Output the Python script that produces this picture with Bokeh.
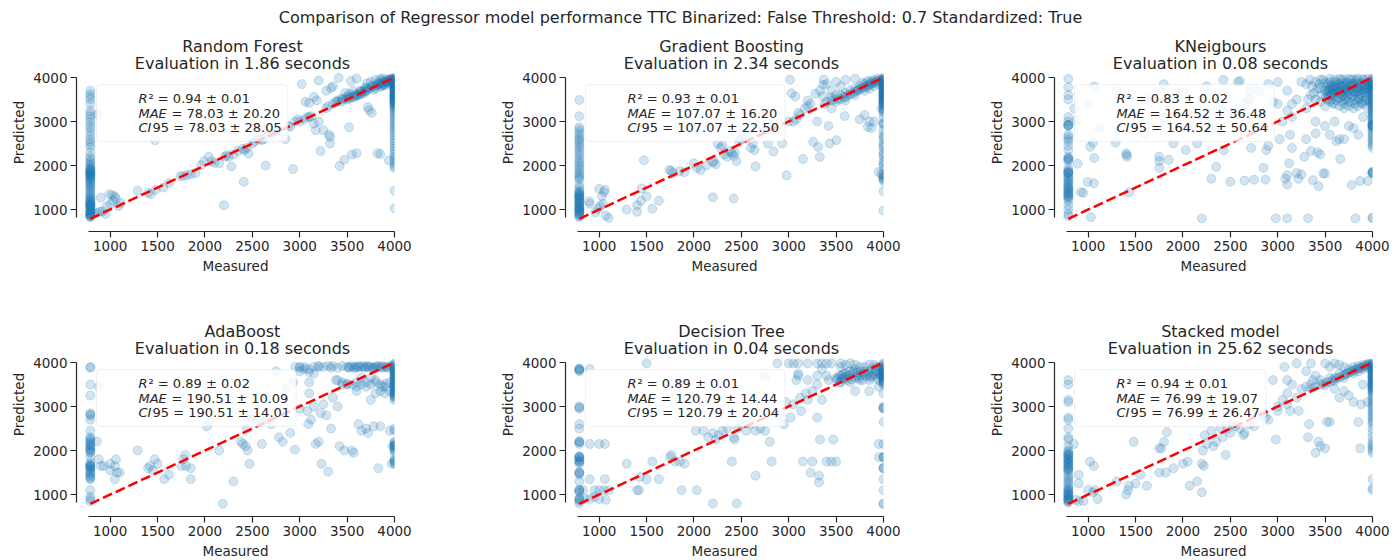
from bokeh.plotting import figure
from bokeh.models import Range1d, FixedTicker, BoxAnnotation, Label
from bokeh.layouts import column, row
from bokeh.embed import file_html
from bokeh.resources import INLINE
from bokeh.core.properties import value

SUPTITLE = "Comparison of Regressor model performance TTC Binarized: False Threshold: 0.7 Standardized: True"
MODELS = ["Random Forest", "Gradient Boosting", "KNeigbours", "AdaBoost", "Decision Tree", "Stacked model"]
EVAL_SECONDS = ["1.86", "2.34", "0.08", "0.18", "0.04", "25.62"]
R2_MEAN = ["0.94", "0.93", "0.83", "0.89", "0.89", "0.94"]
R2_STD = ["0.01", "0.01", "0.02", "0.02", "0.01", "0.01"]
MAE_MEAN = ["78.03", "107.07", "164.52", "190.51", "120.79", "76.99"]
MAE_STD = ["20.20", "16.20", "36.48", "10.09", "14.44", "19.07"]
CI95_STD = ["28.05", "22.50", "50.64", "14.01", "20.04", "26.47"]

X_TICKS = [1000, 1500, 2000, 2500, 3000, 3500, 4000]
Y_TICKS = [1000, 2000, 3000, 4000]
XLIM = (771, 4000)
YLIM = (820, 4000)
MEAS_MIN = 790      # measured value of the lower clip column
MEAS_MAX = 4000     # measured value of the upper clip column
IDENTITY = [790, 4000]

# ---------------- Random Forest ----------------
RF_LEFT = [3700, 3620, 3560, 3500, 3400, 3250, 3180, 3120, 3050, 2980, 2900, 2840, 2760, 2680, 2600, 2540,
           2480, 2420, 2300, 2200, 2150, 2100, 2060, 2020, 1980, 1950, 1920, 1900, 1880, 1850, 1830, 1800,
           1780, 1760, 1740, 1720, 1700, 1680, 1650, 1620, 1600, 1560, 1520, 1500, 1460, 1420, 1380, 1350,
           1300, 1280, 1250, 1230, 1200, 1180, 1150, 1130, 1100, 1080, 1050, 1030, 1000, 980, 960, 940, 920,
           900, 880, 860, 840, 830, 1860, 1820, 1780, 1900, 1160, 1120, 1090, 1060, 910, 870]
RF_RIGHT = [3990, 3970, 3950, 3930, 3910, 3890, 3870, 3850, 3830, 3810, 3790, 3770, 3750, 3730, 3710, 3690,
            3670, 3650, 3630, 3610, 3590, 3570, 3550, 3530, 3510, 3490, 3470, 3450, 3430, 3400, 3370, 3340,
            3310, 3280, 3240, 3200, 3150, 3100, 3060, 3000, 2950, 2900, 2850, 2800, 2740, 2680, 2620, 2560,
            2500, 2440, 2380, 2320, 2260, 2200, 2150, 2100, 2040, 1980, 1940, 1430, 1030, 3960, 3900, 3860,
            3820, 3780, 3740, 3700, 3660, 3620, 3580, 3540, 3500, 3460, 3420, 3380]
RF_POINTS = [(830, 900), (860, 930), (890, 950), (920, 960), (950, 900), (900, 1270), (990, 1350), (1020, 1330),
             (1050, 1300), (1060, 1250), (1030, 1200), (1000, 1120), (960, 1070), (1090, 1080), (1110, 1150),
             (1290, 1430), (1400, 1380), (1430, 1350), (1480, 1450), (1560, 1500), (1620, 1600), (1740, 1760),
             (1770, 1760), (1810, 1780), (1850, 1800), (1900, 1830), (1960, 2010), (1990, 2100), (2040, 2200),
             (2070, 2100), (2100, 2060), (2150, 2050), (2200, 1100), (2210, 2200), (2230, 2240), (2250, 2200),
             (2280, 1980), (2300, 2250), (2350, 2330), (2400, 2380), (2410, 1630), (2420, 2350), (2440, 2400),
             (2460, 2270), (2500, 2500), (2530, 2550), (2570, 2600), (2600, 2580), (2620, 2600), (2640, 2000),
             (2680, 2700), (2720, 2750), (2760, 2800), (2800, 2780), (2850, 2600), (2880, 2900), (2900, 2880),
             (2930, 1920), (2950, 3000), (2980, 3050), (3000, 3000), (3050, 3050), (3080, 3100), (3100, 3100),
             (3120, 3120), (3150, 2950), (3170, 2800), (3200, 3000), (3220, 2330), (3250, 2800), (3280, 3300),
             (3300, 3350), (3310, 2700), (3320, 2500), (3320, 2650), (3350, 3400), (3380, 3450), (3400, 3450),
             (3420, 1990), (3440, 3450), (3470, 2130), (3500, 3500), (3520, 2870), (3530, 3520), (3550, 2250),
             (3570, 3550), (3600, 2280), (3600, 3580), (3620, 3600), (3650, 3620), (3680, 3650), (3700, 3680),
             (3720, 3330), (3730, 3260), (3760, 3200), (3780, 3720), (3800, 3750), (3820, 2280), (3850, 2260),
             (3860, 3800), (3880, 3830), (3900, 3860), (3920, 3900), (3940, 3920), (3960, 3950), (3980, 3970),
             (3940, 2120), (2620, 2800), (2700, 2730), (2750, 2850), (2500, 2620), (870, 3160), (1475, 2575),
             (3020, 3850), (3200, 3930), (3280, 3700), (3330, 3760), (3350, 3800), (3410, 3990), (3480, 3650),
             (3540, 3920), (3600, 3980), (3640, 3700), (3100, 3420), (3180, 3480), (3150, 3560), (3060, 3450),
             (3710, 3870), (3750, 3900), (3690, 3760), (3800, 3950), (3850, 3970), (3880, 3980), (3560, 3700),
             (3520, 3620), (3400, 3480), (3450, 3500), (3480, 3520), (3520, 3550), (3550, 3560), (3580, 3590),
             (3610, 3610), (3640, 3640), (3660, 3680), (3690, 3700), (3710, 3730), (3740, 3760), (3760, 3780),
             (3790, 3800), (3810, 3830), (3830, 3850), (3850, 3870), (3870, 3880), (3890, 3900), (3910, 3920),
             (3930, 3930), (3950, 3940), (3970, 3960), (3850, 3800), (3900, 3820), (3950, 3850), (3980, 3900),
             (3940, 3880), (3880, 3850), (3960, 3970), (3920, 3960), (3860, 3920), (3820, 3880), (3760, 3820),
             (3700, 3760), (3640, 3680), (3580, 3620), (3500, 3560), (3440, 3520)]

# ---------------- Gradient Boosting ----------------
GB_LEFT = [3490, 3120, 2870, 2820, 2760, 2700, 2640, 2600, 2560, 2500, 2450, 2400, 2340, 2280, 2220, 2160,
           2100, 2050, 2000, 1950, 1900, 1850, 1800, 1760, 1720, 1680, 1560, 1500, 1440, 1400, 1370, 1340,
           1300, 1270, 1240, 1210, 1180, 1150, 1120, 1090, 1060, 1030, 1000, 970, 940, 910, 880, 850, 830,
           1380, 1320, 1260, 1200, 1140, 1080, 1020, 960, 900, 1300, 1000]
GB_RIGHT = [3990, 3970, 3950, 3930, 3910, 3890, 3870, 3850, 3830, 3810, 3790, 3770, 3750, 3730, 3710, 3690,
            3670, 3650, 3630, 3610, 3590, 3570, 3550, 3530, 3510, 3490, 3470, 3450, 3430, 3410, 3380, 3350,
            3320, 3290, 3260, 3230, 3200, 3100, 2980, 2950, 2920, 2800, 2700, 2650, 2600, 2500, 2450, 2400,
            2300, 2250, 2200, 2100, 2050, 2000, 1900, 1800, 1760, 1730, 1700, 1680, 1650, 1420, 980, 3950,
            3900, 3850, 3800, 3750, 3700, 3650, 3600, 3550, 3500, 3450, 3400]
GB_POINTS = [(895, 1190), (900, 1130), (1000, 1470), (1050, 1400), (1060, 1450), (1030, 1300), (1040, 1130),
             (1010, 1080), (1070, 860), (1100, 810), (990, 1020), (960, 940), (1290, 1000), (1400, 950),
             (1400, 1100), (1440, 1200), (1450, 1480), (1472, 2119), (1500, 1300), (1560, 1020), (1630, 1200),
             (1740, 1900), (1760, 1880), (1780, 1830), (1850, 1870), (1900, 1850), (2000, 2050), (2030, 1950),
             (2070, 1900), (2130, 2000), (2200, 1280), (2200, 2070), (2210, 2100), (2230, 2030), (2250, 2500),
             (2280, 2400), (2300, 2450), (2320, 2250), (2350, 2200), (2380, 2320), (2400, 2280), (2420, 1250),
             (2420, 2220), (2430, 2300), (2450, 2100), (2480, 2550), (2500, 2600), (2550, 2650), (2600, 2400),
             (2620, 2500), (2640, 2350), (2650, 1980), (2700, 2750), (2750, 2800), (2780, 2500), (2800, 2900),
             (2840, 2320), (2860, 2800), (2900, 2950), (2930, 2500), (2978, 1777), (3000, 3000), (3050, 3000),
             (3080, 3050), (3100, 3200), (3120, 3150), (3150, 2150), (3170, 3300), (3200, 3350), (3230, 3400),
             (3258, 2538), (3310, 2424), (3328, 2195), (3433, 2500), (3503, 2576), (3300, 3000), (3380, 3400),
             (3420, 2900), (3450, 3300), (3013, 3947), (3030, 3642), (3070, 3570), (3200, 3480), (3280, 3630),
             (3363, 3832), (3370, 3950), (3400, 3850), (3330, 3700), (3360, 3580), (3450, 3700), (3500, 3900),
             (3550, 3800), (3600, 3950), (3700, 3970), (3590, 3124), (3750, 3050), (3800, 3150), (3850, 3000),
             (3835, 2880), (3870, 2850), (3900, 3000), (3980, 3300), (3951, 1853), (3980, 1800), (3400, 3450),
             (3450, 3480), (3480, 3500), (3500, 3450), (3520, 3520), (3550, 3500), (3580, 3560), (3600, 3550),
             (3620, 3600), (3650, 3620), (3680, 3640), (3700, 3680), (3720, 3700), (3740, 3720), (3760, 3750),
             (3780, 3760), (3800, 3780), (3820, 3800), (3840, 3820), (3860, 3840), (3880, 3860), (3900, 3880),
             (3920, 3900), (3940, 3920), (3960, 3940), (3980, 3960), (3600, 3480), (3700, 3600), (3800, 3700),
             (3850, 3750), (3900, 3800), (3950, 3850), (3750, 3800), (3800, 3850), (3850, 3900), (3900, 3950),
             (3650, 3700), (3550, 3600), (3450, 3550), (3700, 3750), (3600, 3650), (3780, 3880), (3830, 3920),
             (3880, 3920), (3940, 3970), (3500, 3600)]

# ---------------- KNeigbours ----------------
KN_LEFT = [3970, 3780, 3600, 3500, 3100, 3000, 2930, 2920, 2910, 2900, 2700, 2650, 2600, 2550, 2450, 2350,
           2200, 2160, 2150, 2140, 2100, 1950, 1900, 1860, 1850, 1840, 1830, 1800, 1760, 1720, 1700, 1650,
           1620, 1600, 1560, 1530, 1500, 1470, 1450, 1420, 1400, 1370, 1350, 1320, 1300, 1280, 1250, 1200,
           1100, 1000, 900, 850]
KN_RIGHT = [3980, 3960, 3930, 3900, 3870, 3840, 3810, 3780, 3750, 3720, 3690, 3660, 3630, 3600, 3570, 3540,
            3510, 3480, 3450, 3420, 3390, 3360, 3330, 3300, 3270, 3240, 3210, 3180, 3150, 3120, 3090, 3060,
            3030, 3000, 2960, 2930, 2920, 2910, 2900, 2890, 2880, 2850, 2800, 2750, 2700, 2650, 2600, 2550,
            2500, 2450, 2400, 1860, 1850, 1840, 1830, 1820, 800, 820]
KN_POINTS = [(853, 3300), (880, 3030), (888, 2043), (923, 1396), (950, 1380), (993, 1624), (1060, 1600),
             (1063, 2173), (1050, 2520), (1115, 2843), (1063, 3794), (1000, 3400), (1021, 2424), (1028, 825),
             (1290, 2520), (1400, 2280), (1405, 2240), (1410, 2200), (1430, 1390), (1600, 2720), (1797, 3848),
             (1750, 2200), (1750, 2100), (1750, 1950), (1850, 2130), (1900, 2500), (2030, 2350), (2150, 2500),
             (2200, 800), (2250, 3800), (2300, 2850), (2350, 1970), (2300, 1700), (2430, 2350), (2500, 1630),
             (2427, 3947), (2580, 3900), (2600, 3920), (2650, 3400), (2650, 1660), (2700, 3500), (2720, 2400),
             (2750, 1680), (2800, 3700), (2850, 1950), (2870, 1680), (2880, 2350), (2900, 2450), (2950, 3450),
             (2980, 800), (3000, 3900), (3020, 2600), (3080, 1700), (3100, 800), (3100, 1570), (3100, 1780),
             (3120, 2050), (3130, 2700), (3150, 2400), (3150, 3100), (3200, 1830), (3220, 1700), (3250, 1800),
             (3280, 2200), (3300, 2600), (3320, 800), (3350, 2330), (3370, 1670), (3400, 2730), (3400, 3000),
             (3420, 2300), (3430, 1530), (3450, 2250), (3480, 1820), (3500, 1820), (3500, 2900), (3550, 2700),
             (3600, 3000), (3620, 2550), (3650, 2600), (3660, 2150), (3700, 2600), (3700, 3300), (3750, 2900),
             (3780, 1560), (3800, 2850), (3820, 800), (3850, 2700), (3870, 1650), (3900, 3100), (3950, 1650),
             (2700, 3700), (2900, 3850), (3000, 3400), (3100, 3700), (3150, 3400), (3200, 3500), (3250, 3900),
             (3300, 3300), (3350, 3600), (3450, 3750), (3100, 3250), (3050, 3000), (1300, 3700), (1600, 3500),
             (2000, 3650), (2200, 3500), (2400, 3300), (2550, 3200), (1800, 3100), (2100, 2900),
             (3500, 3700), (3520, 3650), (3540, 3750), (3560, 3600), (3580, 3800), (3600, 3700), (3620, 3650),
             (3640, 3750), (3660, 3550), (3680, 3700), (3700, 3800), (3720, 3650), (3740, 3600), (3760, 3750),
             (3780, 3700), (3800, 3850), (3820, 3650), (3840, 3750), (3860, 3550), (3880, 3700), (3900, 3800),
             (3920, 3650), (3940, 3750), (3960, 3600), (3980, 3700), (3510, 3550), (3530, 3850), (3550, 3900),
             (3570, 3500), (3590, 3650), (3610, 3900), (3630, 3550), (3650, 3850), (3670, 3950), (3690, 3600),
             (3710, 3500), (3730, 3900), (3750, 3450), (3770, 3950), (3790, 3550), (3810, 3400), (3830, 3950),
             (3850, 3500), (3870, 3850), (3890, 3450), (3910, 3950), (3930, 3500), (3950, 3900), (3970, 3450),
             (3990, 3850), (3400, 3900), (3420, 3750), (3440, 3850), (3460, 3600), (3480, 3950), (3380, 3650),
             (3360, 3800), (3340, 3950), (3320, 3500), (3300, 3850), (3600, 3400), (3650, 3350), (3700, 3400),
             (3750, 3350), (3800, 3300), (3850, 3350), (3900, 3400), (3950, 3300), (3550, 3450), (3500, 3350),
             (3450, 3450), (3400, 3500), (3560, 3720), (3620, 3780), (3680, 3820), (3740, 3680), (3800, 3580),
             (3860, 3620), (3920, 3820), (3980, 3900), (3540, 3580), (3600, 3820), (3660, 3660), (3720, 3740),
             (3780, 3860), (3840, 3680), (3900, 3560), (3960, 3780),
             (3520, 3780), (3540, 3680), (3560, 3820), (3580, 3720), (3600, 3600), (3620, 3860), (3640, 3680),
             (3660, 3780), (3680, 3580), (3700, 3720), (3720, 3860), (3740, 3780), (3760, 3640), (3780, 3800),
             (3800, 3680), (3820, 3760), (3840, 3880), (3860, 3720), (3880, 3800), (3900, 3660), (3920, 3740),
             (3940, 3860), (3960, 3700), (3980, 3800), (3530, 3700), (3570, 3640), (3610, 3760), (3650, 3700),
             (3690, 3880), (3730, 3720), (3770, 3820), (3810, 3860), (3850, 3780), (3890, 3880), (3930, 3700),
             (3970, 3860), (3550, 3970), (3650, 3970), (3750, 3970), (3850, 3970), (3950, 3970), (3600, 3950),
             (3700, 3960), (3800, 3960), (3900, 3960), (3450, 3950), (3500, 3880), (3520, 3500), (3620, 3480),
             (3720, 3520), (3820, 3500), (3920, 3480), (3580, 3420), (3680, 3460), (3780, 3440), (3880, 3420),
             (3980, 3500)]

# ---------------- AdaBoost ----------------
AB_LEFT = [3900, 3880, 3500, 3250, 2850, 2820, 2790, 2700, 2450, 2300, 2270, 2240, 2200, 2170, 2140, 2110,
           2080, 2050, 2020, 2000, 1970, 1950, 1850, 1720, 1690, 1660, 1650, 1640, 1620, 1600, 1570, 1540,
           1500, 1470, 1440, 1400, 1370, 1350, 1100, 950, 900, 850]
AB_RIGHT = [3980, 3960, 3930, 3900, 3880, 3860, 3840, 3820, 3800, 3780, 3760, 3740, 3720, 3700, 3680, 3660,
            3640, 3620, 3600, 3580, 3560, 3540, 3520, 3500, 3480, 3460, 3440, 3420, 3400, 3380, 3360, 3340,
            3320, 3300, 3280, 3260, 3240, 3220, 3200, 3150, 2500, 2450, 2200, 2180, 2150, 2120, 2100, 2080,
            2050, 2020, 2000, 1950, 1800, 1770, 1750, 1720, 1700]
AB_POINTS = [(880, 3450), (880, 1800), (900, 1650), (930, 1650), (859, 2206), (1000, 1700), (1050, 1650),
             (1060, 1800), (1070, 1500), (1050, 1350), (1100, 1500), (1000, 1550), (1290, 2000), (1400, 1600),
             (1420, 1650), (1450, 1550), (1470, 1800), (1500, 1700), (1570, 1350), (1620, 1450), (1750, 1650),
             (1770, 1800), (1790, 1900), (1800, 1650), (1850, 1600), (1850, 1350), (2020, 2549), (2050, 2650),
             (2150, 2000), (2189, 794), (2300, 1300), (2380, 2200), (2400, 2150), (2430, 2100), (2440, 2500),
             (2450, 2000), (2470, 1700), (2500, 2800), (2550, 2700), (2600, 2150), (2650, 2700), (2700, 2600),
             (2750, 3800), (2780, 2300), (2820, 2200), (2850, 3400), (2900, 2400), (2930, 3550), (2950, 2020),
             (3000, 3900), (3050, 3850), (3080, 2900), (3090, 2600), (3100, 3300), (3100, 3550), (3120, 2700),
             (3150, 3000), (3170, 2150), (3200, 2200), (3200, 3900), (3220, 2850), (3230, 1700), (3250, 3050),
             (3280, 2800), (3300, 1520), (3330, 2500), (3350, 3200), (3380, 3600), (3400, 3000), (3420, 2100),
             (3450, 3500), (3470, 2000), (3500, 3500), (3550, 2000), (3570, 1950), (3600, 3350), (3620, 2600),
             (3650, 2450), (3700, 2500), (3720, 2400), (3750, 3150), (3780, 2550), (3800, 3300), (3830, 1600),
             (3850, 2550), (3870, 3450), (3900, 3300), (3950, 2450), (3980, 2100), (3970, 1700),
             (2950, 3900), (3000, 3880), (3050, 3900), (3100, 3850), (3150, 3900), (3200, 3920), (3250, 3900),
             (3300, 3920), (3330, 3880), (3350, 3920), (3400, 3880), (3450, 3920), (3500, 3900), (3520, 3880),
             (3550, 3920), (3580, 3900), (3600, 3880), (3620, 3920), (3650, 3900), (3680, 3880), (3700, 3900),
             (3720, 3920), (3750, 3900), (3780, 3880), (3800, 3900), (3820, 3920), (3850, 3900), (3870, 3880),
             (3900, 3900), (3930, 3880), (3960, 3920), (3980, 3900), (3100, 3780), (3000, 3800), (3150, 3750),
             (3520, 3900), (3620, 3900), (3720, 3900), (3820, 3900), (3920, 3900), (3570, 3880), (3670, 3920),
             (3770, 3880), (3870, 3920), (3400, 3600), (3450, 3550), (3500, 3520), (3550, 3500), (3600, 3550),
             (3650, 3500), (3700, 3550), (3750, 3500), (3800, 3550), (3850, 3500), (3900, 3520), (3950, 3550),
             (3900, 3450), (3850, 3350), (3950, 3350), (3700, 3450), (3600, 3450), (3800, 3600), (3750, 3650),
             (3650, 3650), (2600, 2650), (2500, 2700), (2800, 2800), (3000, 2950)]

# ---------------- Decision Tree ----------------
DT_LEFT = [3860, 3850, 3840, 3830, 3800, 3000, 2980, 2950, 2600, 2500, 2210, 2200, 2190, 2150, 1870, 1860,
           1850, 1840, 1800, 1760, 1750, 1740, 1700, 1510, 1500, 1490, 1450, 1300, 1110, 1100, 1090, 1050,
           910, 900, 890, 850, 800]
DT_RIGHT = [3980, 3960, 3930, 3900, 3880, 3860, 3840, 3820, 3800, 3780, 3760, 3740, 3720, 3700, 3680, 3660,
            3640, 3620, 3600, 3580, 3560, 3540, 3520, 3500, 3300, 3000, 2970, 2960, 2950, 2650, 2150, 1860,
            1850, 1840, 1610, 1600, 1590, 1350, 1100, 800, 780]
DT_POINTS = [(900, 3850), (900, 2150), (1000, 2150), (1060, 2150), (900, 1350), (1060, 1350), (950, 1100),
             (830, 1100), (850, 900), (900, 900), (950, 950), (1000, 1100), (1050, 1100), (1100, 1100),
             (1000, 900), (1070, 880), (1290, 1700), (1400, 1100), (1420, 1100), (1430, 1400), (1500, 1350),
             (1500, 3980), (1560, 1750), (1630, 1350), (1750, 1850), (1760, 1900), (1800, 1750), (1850, 1750),
             (1870, 1100), (1900, 1700), (2030, 1100), (2020, 2450), (2100, 2450), (2150, 2300), (2200, 800),
             (2200, 2400), (2230, 2250), (2260, 2350), (2300, 2450), (2350, 2500), (2400, 1750), (2420, 2300),
             (2430, 2250), (2450, 800), (2460, 2500), (2500, 2600), (2550, 2450), (2600, 2600), (2650, 2450),
             (2650, 1430), (2700, 2500), (2750, 2450), (2750, 3680), (2800, 2200), (2820, 1750), (2880, 3980),
             (2900, 2800), (2950, 2600), (2970, 3100), (3000, 3980), (3020, 2750), (3050, 3050), (3080, 3600),
             (3100, 3750), (3120, 3200), (3130, 2900), (3150, 1750), (3200, 3150), (3230, 1500), (3250, 1750),
             (3250, 3350), (3300, 2750), (3320, 1280), (3320, 1430), (3330, 2250), (3350, 3150), (3400, 1750),
             (3450, 1750), (3470, 2250), (3500, 1750), (3050, 3980), (3100, 3980), (3200, 3980), (3300, 3980),
             (3350, 3980), (3400, 3980), (3450, 3980), (3550, 3980), (3650, 3980), (3100, 3700), (3200, 3600),
             (3300, 3700), (3400, 3700), (3350, 3850), (3420, 3600), (3300, 3500), (3180, 3300),
             (3500, 3600), (3520, 3650), (3540, 3700), (3560, 3620), (3580, 3750), (3600, 3650), (3620, 3700),
             (3640, 3800), (3660, 3620), (3680, 3750), (3700, 3850), (3720, 3700), (3740, 3650), (3760, 3800),
             (3780, 3750), (3800, 3900), (3820, 3700), (3840, 3800), (3860, 3650), (3880, 3850), (3900, 3750),
             (3920, 3900), (3940, 3800), (3960, 3700), (3980, 3850), (3550, 3900), (3600, 3950), (3700, 3950),
             (3750, 3900), (3850, 3950), (3900, 3950), (3950, 3900), (3700, 3350), (3850, 3350), (3950, 3450),
             (3650, 3550), (3750, 3600), (3850, 3600), (3950, 3600), (3550, 3550), (3950, 2150), (3950, 1850),
             (3560, 3700), (3600, 3750), (3640, 3700), (3680, 3800), (3720, 3780), (3760, 3700), (3800, 3800),
             (3840, 3750), (3880, 3700), (3920, 3800), (3960, 3750), (3620, 3600), (3700, 3650), (3780, 3600),
             (3860, 3700), (3940, 3650), (3980, 3700), (3500, 3650), (3540, 3550), (3580, 3650)]

# ---------------- Stacked model ----------------
ST_LEFT = [3600, 3500, 3150, 3100, 2750, 2700, 2500, 2300, 2250, 2100, 2000, 1970, 1940, 1910, 1880, 1850,
           1820, 1790, 1760, 1730, 1700, 1670, 1640, 1610, 1580, 1550, 1520, 1450, 1400, 1350, 1300, 1250,
           1200, 1150, 1120, 1100, 1070, 1050, 1020, 1000, 970, 950, 920, 900, 880, 860, 840, 820, 1900,
           1800, 1700, 1600, 1000, 900]
ST_RIGHT = [3980, 3960, 3930, 3900, 3870, 3840, 3810, 3780, 3750, 3720, 3690, 3660, 3630, 3600, 3570, 3540,
            3510, 3480, 3450, 3420, 3390, 3360, 3330, 3300, 3250, 3200, 3150, 3100, 3050, 3000, 2950, 2900,
            2850, 2800, 2750, 2700, 2650, 2600, 2500, 2400, 2300, 2200, 2150, 2100, 2050, 2000, 1950, 1350,
            1150, 1100, 3950, 3900, 3850, 3800, 3750, 3700, 3650, 3600, 3550, 3500, 3450, 3400]
ST_POINTS = [(900, 1450), (900, 1250), (850, 2150), (870, 880), (900, 850), (950, 850), (1000, 1100),
             (1020, 1750), (1050, 1050), (1060, 1650), (1070, 1100), (1100, 900), (1300, 1300), (1400, 1000),
             (1420, 1100), (1430, 1200), (1480, 2200), (1500, 1250), (1550, 1450), (1620, 1200), (1750, 1500),
             (1750, 2050), (1770, 2050), (1800, 2200), (1820, 1500), (1830, 2420), (1900, 1600), (2000, 1700),
             (2050, 1750), (2070, 1200), (2150, 1300), (2200, 1050), (2200, 1700), (2210, 2000), (2220, 1650),
             (2230, 2350), (2250, 2150), (2300, 2450), (2320, 2100), (2350, 2200), (2400, 2500), (2420, 2300),
             (2450, 1900), (2470, 2500), (2500, 2400), (2520, 2600), (2550, 2550), (2600, 2500), (2640, 2350),
             (2650, 2400), (2700, 2600), (2750, 2550), (2780, 2800), (2850, 2850), (2870, 2750), (2900, 2700),
             (2950, 3600), (2980, 2250), (3000, 2900), (3000, 3000), (3050, 3150), (3070, 3900), (3100, 3050),
             (3100, 3300), (3130, 2900), (3150, 3500), (3200, 3200), (3220, 2900), (3250, 3400), (3300, 3800),
             (3320, 2300), (3330, 2600), (3350, 3500), (3370, 3600), (3400, 3700), (3400, 1950), (3430, 2200),
             (3450, 2100), (3500, 2050), (3520, 2650), (3550, 2650), (3600, 3400), (3650, 3200), (3700, 3350),
             (3750, 3250), (3800, 3100), (3850, 2650), (3870, 2050), (3880, 3050), (3900, 3500), (3950, 3100),
             (3100, 3600), (3200, 3980), (3350, 3980), (3500, 3980), (3550, 3900), (3600, 3980), (3650, 3950),
             (3700, 3900), (3300, 3450), (3350, 3400), (3400, 3450), (3450, 3500), (3480, 3520), (3500, 3480),
             (3520, 3550), (3550, 3560), (3580, 3600), (3600, 3580), (3620, 3640), (3650, 3660), (3680, 3700),
             (3700, 3720), (3720, 3740), (3740, 3760), (3760, 3780), (3780, 3800), (3800, 3820), (3820, 3840),
             (3840, 3860), (3860, 3870), (3880, 3890), (3900, 3900), (3920, 3920), (3940, 3940), (3960, 3950),
             (3980, 3970), (3600, 3650), (3700, 3650), (3800, 3750), (3850, 3800), (3900, 3850), (3950, 3880),
             (3750, 3850), (3850, 3920), (3950, 3970), (3650, 3750), (3550, 3650), (3450, 3600), (3800, 3900),
             (3900, 3950)]

LEFT_SETS = [RF_LEFT, GB_LEFT, KN_LEFT, AB_LEFT, DT_LEFT, ST_LEFT]
RIGHT_SETS = [RF_RIGHT, GB_RIGHT, KN_RIGHT, AB_RIGHT, DT_RIGHT, ST_RIGHT]
POINT_SETS = [RF_POINTS, GB_POINTS, KN_POINTS, AB_POINTS, DT_POINTS, ST_POINTS]

# ---------------- styling / geometry ----------------
FONT = "DejaVu Sans"
TXT = "#262626"
BLUE = "#1f77b4"
WIN_W = 1396
FRAME_W = 318
DATA_H = 140            # pixel height of the data area
GAP_X, GAP_Y = 12, 14   # spine offsets (left / bottom)
HEAD = [44, 70]         # frame space above the data area (titles live there), per row
KX = (XLIM[1] - XLIM[0]) / (FRAME_W - GAP_X)
KY = (YLIM[1] - YLIM[0]) / DATA_H
X_START = XLIM[0] - GAP_X * KX
Y_START = YLIM[0] - GAP_Y * KY
FRAME_LEFTS = [76, 565, 1054]
RIGHT_BORDERS = [95, 95, 24]
TOP_BORDER = 2
BOTTOM_BORDERS = [59, 44]
SUP_H = 31

EM = {"0": .636, "1": .636, "2": .636, "3": .636, "4": .636, "5": .636, "6": .636, "7": .636, "8": .636,
      "9": .636, ".": .318, " ": .318, "=": .838, "±": .838, "²": .4}


def text_w(s, fs=13):
    return sum(EM.get(c, .6) for c in s) * fs


def make_panel(i):
    r, c = divmod(i, 3)
    y_end = YLIM[1] + HEAD[r] * KY
    p = figure(frame_width=FRAME_W, frame_height=GAP_Y + DATA_H + HEAD[r],
               x_range=Range1d(X_START, XLIM[1]), y_range=Range1d(Y_START, y_end),
               min_border_left=FRAME_LEFTS[0], min_border_right=RIGHT_BORDERS[c],
               min_border_top=TOP_BORDER, min_border_bottom=BOTTOM_BORDERS[r],
               toolbar_location=None, output_backend="svg", title=None)
    p.outline_line_color = None
    p.xgrid.visible = False
    p.ygrid.visible = False

    lefts, rights, pts = LEFT_SETS[i], RIGHT_SETS[i], POINT_SETS[i]
    xs = [MEAS_MIN] * len(lefts) + [q[0] for q in pts] + [MEAS_MAX] * len(rights)
    ys = list(lefts) + [q[1] for q in pts] + list(rights)
    p.scatter(xs, ys, size=9, fill_color=BLUE, fill_alpha=0.2, line_color=BLUE, line_alpha=0.2, line_width=1)
    p.line(IDENTITY, IDENTITY, line_color="red", line_width=2.5, line_dash="10 4")

    for ax, ticks, bounds, lab in ((p.xaxis, X_TICKS, XLIM, "Measured"), (p.yaxis, Y_TICKS, YLIM, "Predicted")):
        ax.ticker = FixedTicker(ticks=ticks)
        ax.bounds = bounds
        ax.axis_label = lab
        ax.axis_label_text_font = FONT
        ax.axis_label_text_font_style = "normal"
        ax.axis_label_text_font_size = "13.5px"
        ax.axis_label_text_color = TXT
        ax.major_label_text_font = FONT
        ax.major_label_text_font_size = "13.5px"
        ax.major_label_text_color = TXT
        ax.axis_line_color = TXT
        ax.axis_line_width = 1.2
        ax.major_tick_line_color = TXT
        ax.major_tick_line_width = 1.2
        ax.major_tick_out = 6
        ax.major_tick_in = 0
        ax.minor_tick_line_color = None
        ax.major_label_standoff = 3
    p.xaxis.axis_label_standoff = 4
    p.yaxis.axis_label_standoff = 3

    # stats box
    lines = [("R", "² = %s ± %s" % (R2_MEAN[i], R2_STD[i]), 10),
             ("MAE", "= %s ± %s" % (MAE_MEAN[i], MAE_STD[i]), 33),
             ("CI", "95 = %s ± %s" % (MAE_MEAN[i], CI95_STD[i]), 14)]
    widest = max(off + text_w(rest) for _, rest, off in lines)
    box = BoxAnnotation(left=XLIM[0] + 8 * KX, right=XLIM[0] + (50 + widest + 6) * KX,
                        top=YLIM[1] - 7 * KY, bottom=YLIM[1] - 64 * KY,
                        fill_color="white", fill_alpha=0.8, line_color="#cccccc", line_width=1,
                        border_radius=4)
    p.add_layout(box)
    for k, (var, rest, off) in enumerate(lines):
        yy = YLIM[1] - (21 + 14.5 * k) * KY
        p.add_layout(Label(x=XLIM[0] + 50 * KX, y=yy, text=var, text_font=FONT, text_font_style="italic",
                           text_font_size="13px", text_baseline="middle", text_color=TXT))
        p.add_layout(Label(x=XLIM[0] + 50 * KX, y=yy, x_offset=off, text=rest, text_font=FONT,
                           text_font_size="13px", text_baseline="middle", text_color=TXT))

    # two-line panel title, centred over the data area
    xc = (XLIM[0] + XLIM[1]) / 2 + KX
    p.text(x=[xc, xc], y=[YLIM[1] + 31 * KY, YLIM[1] + 13.7 * KY],
           text=[MODELS[i], "Evaluation in %s seconds" % EVAL_SECONDS[i]],
           text_align="center", text_baseline="middle", text_font=value(FONT),
           text_font_size="16px", text_color=TXT)
    return p


strip = figure(width=WIN_W, height=SUP_H, x_range=Range1d(0, WIN_W), y_range=Range1d(0, SUP_H),
               min_border=0, toolbar_location=None, output_backend="svg",
               x_axis_location=None, y_axis_location=None)
strip.outline_line_color = None
strip.xgrid.visible = False
strip.ygrid.visible = False
strip.text(x=[680], y=[SUP_H - 17], text=[SUPTITLE], text_align="center", text_baseline="middle",
           text_font=value(FONT), text_font_size="16px", text_color=TXT)

panels = [make_panel(i) for i in range(6)]
layout = column(strip, row(*panels[:3]), row(*panels[3:]))
open("out.html", "w").write(file_html(layout, INLINE))
